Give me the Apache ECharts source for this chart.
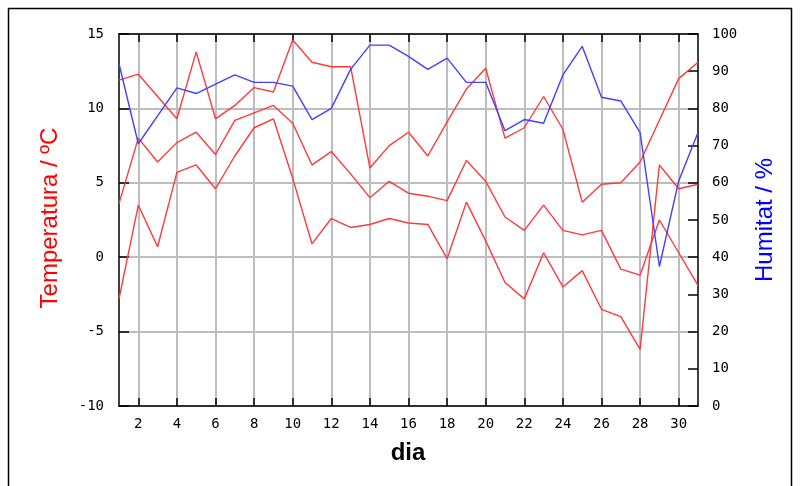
<!DOCTYPE html>
<html>
<head>
<meta charset="utf-8">
<script src="https://cdn.jsdelivr.net/npm/echarts@6/dist/echarts.min.js"></script>
<style>
html,body{margin:0;padding:0;background:#fff;}
#c{width:801px;height:486px;}
</style>
</head>
<body>
<div id="c"></div>
<script>
const days = ['1','2','3','4','5','6','7','8','9','10','11','12','13','14','15','16','17','18','19','20','21','22','23','24','25','26','27','28','29','30','31'];
const tempMax = [11.9, 12.3, 10.8, 9.3, 13.8, 9.3, 10.2, 11.4, 11.1, 14.6, 13.1, 12.8, 12.8, 6.0, 7.5, 8.4, 6.8, 9.1, 11.3, 12.7, 8.0, 8.7, 10.8, 8.6, 3.7, 4.9, 5.0, 6.4, 9.2, 12.0, 13.1];
const tempMean = [3.6, 8.0, 6.4, 7.7, 8.4, 6.9, 9.2, 9.7, 10.2, 9.0, 6.2, 7.1, 5.6, 4.0, 5.1, 4.3, 4.1, 3.8, 6.5, 5.1, 2.7, 1.8, 3.5, 1.8, 1.5, 1.8, -0.8, -1.2, 2.5, 0.3, -1.9];
const tempMin = [-2.8, 3.5, 0.7, 5.7, 6.2, 4.6, 6.8, 8.7, 9.3, 5.3, 0.9, 2.6, 2.0, 2.2, 2.6, 2.3, 2.2, -0.1, 3.7, 1.1, -1.7, -2.8, 0.3, -2.0, -0.9, -3.5, -4.0, -6.2, 6.2, 4.6, 4.9];
const humidity = [92, 70.5, 78, 85.5, 84, 86.5, 89, 87, 87, 86, 77, 80, 90.5, 97, 97, 94, 90.5, 93.5, 87, 87, 74, 77, 76, 89, 96.7, 83, 82, 73.5, 37.5, 60.5, 73.5];

const chart = echarts.init(document.getElementById('c'), null, {renderer: 'canvas'});
const evenIdx = function (idx) { return (idx + 1) % 2 === 0; };
const mono = 'DejaVu Sans Mono';
const red = '#ff3a3a';
const blue = '#4040ff';

function lineSeries(data, color, yIdx) {
  return {
    type: 'line', data: data, yAxisIndex: yIdx, xAxisIndex: 0,
    symbol: 'none', smooth: false, animation: false,
    lineStyle: {color: color, width: 1.4}
  };
}

chart.setOption({
  animation: false,
  backgroundColor: '#fff',
  grid: {left: 119, right: 103, top: 34, bottom: 80, containLabel: false},
  xAxis: [{
    type: 'category', data: days, boundaryGap: false, position: 'bottom',
    axisLine: {show: true, onZero: false, lineStyle: {color: '#000', width: 1.5}},
    axisTick: {show: true, inside: true, length: 8, interval: evenIdx, lineStyle: {color: '#000', width: 1.5}},
    axisLabel: {show: true, interval: evenIdx, margin: 11, fontFamily: mono, fontSize: 14, color: '#000'},
    splitLine: {show: true, interval: evenIdx, lineStyle: {color: '#bdbdbd', width: 2}}
  }, {
    type: 'category', data: days, boundaryGap: false, position: 'top',
    axisLine: {show: true, onZero: false, lineStyle: {color: '#000', width: 1.5}},
    axisTick: {show: true, inside: true, length: 8, interval: evenIdx, lineStyle: {color: '#000', width: 1.5}},
    axisLabel: {show: false},
    splitLine: {show: false}
  }],
  yAxis: [{
    type: 'value', min: -10, max: 15, interval: 5, position: 'left',
    axisLine: {show: true, onZero: false, lineStyle: {color: '#000', width: 1.5}},
    axisTick: {show: true, inside: true, length: 10, lineStyle: {color: '#000', width: 1.5}},
    axisLabel: {margin: 15, fontFamily: mono, fontSize: 14, color: '#000'},
    splitLine: {show: true, lineStyle: {color: '#bdbdbd', width: 2}}
  }, {
    type: 'value', min: 0, max: 100, interval: 10, position: 'right',
    axisLine: {show: true, onZero: false, lineStyle: {color: '#000', width: 1.5}},
    axisTick: {show: true, inside: true, length: 10, lineStyle: {color: '#000', width: 1.5}},
    axisLabel: {margin: 14, fontFamily: mono, fontSize: 14, color: '#000'},
    splitLine: {show: false}
  }],
  series: [
    lineSeries(tempMax, red, 0),
    lineSeries(tempMean, red, 0),
    lineSeries(tempMin, red, 0),
    lineSeries(humidity, blue, 1)
  ],
  graphic: [
    {type: 'rect', shape: {x: 8.5, y: 8.5, width: 783, height: 500}, style: {fill: null, stroke: '#000', lineWidth: 1.5}, silent: true},
    {type: 'text', x: 50, y: 218, rotation: Math.PI / 2,
     style: {text: 'Temperatura / ºC', fill: '#ff0000', font: '24px "Liberation Sans", Arial, sans-serif', textAlign: 'center', textVerticalAlign: 'middle'}},
    {type: 'text', x: 765, y: 220, rotation: Math.PI / 2,
     style: {text: 'Humitat / %', fill: '#0000ff', font: '24px "Liberation Sans", Arial, sans-serif', textAlign: 'center', textVerticalAlign: 'middle'}},
    {type: 'text', x: 408, y: 453,
     style: {text: 'dia', fill: '#000', font: 'bold 24px "Liberation Sans", Arial, sans-serif', textAlign: 'center', textVerticalAlign: 'middle'}}
  ]
});
</script>
</body>
</html>
